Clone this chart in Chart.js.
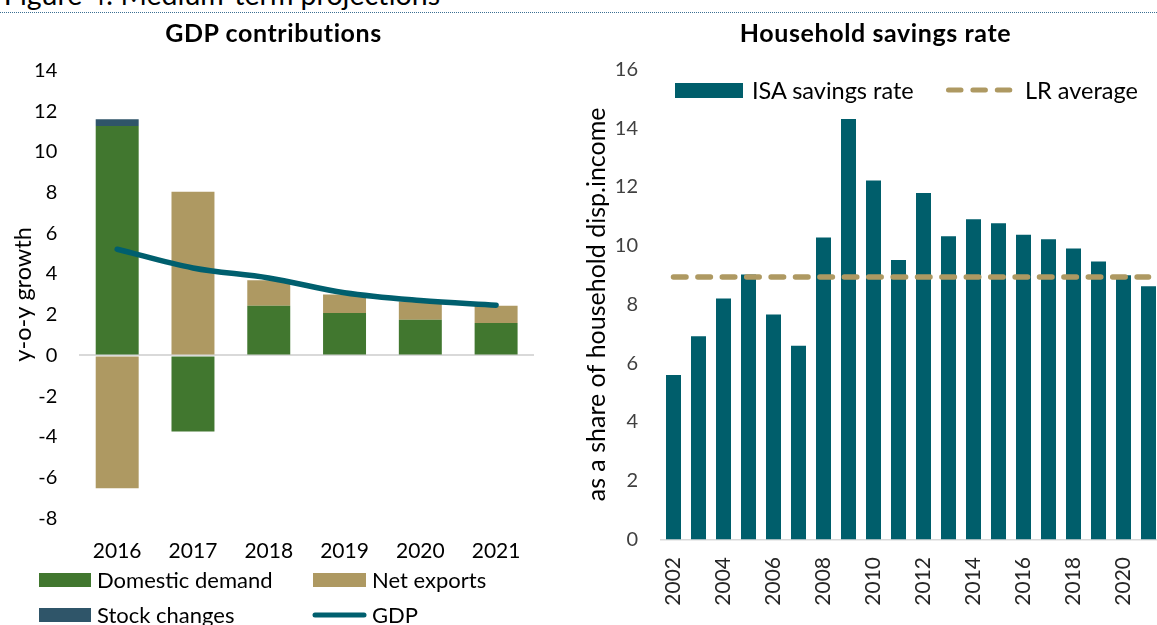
<!DOCTYPE html>
<html>
<head>
<meta charset="utf-8">
<script src="https://cdn.jsdelivr.net/npm/chart.js@4"></script>
<style>
  html, body { margin: 0; padding: 0; background: #fff; }
  body { width: 1157px; height: 625px; overflow: hidden; position: relative; font-family: Lato, sans-serif; color: #000; }
  .abs { position: absolute; white-space: nowrap; }
  #header { right: calc(100% - 440px); top: -20px; font-size: 28.5px; line-height: 28.5px; color: #000; }
  #rule { left: 0; top: 12px; width: 1157px; border-top: 1px dotted #3a6f92; }
  .title { font-weight: bold; font-size: 25px; letter-spacing: 0.6px; line-height: 28px; top: 18px; transform: translateX(-50%); }
  .lgL { font-size: 22px; line-height: 24px; }
  .lgR { font-size: 23.5px; line-height: 24px; }
  .sw { position: absolute; }
  #leftBox { left: 0; top: 0; width: 560px; height: 625px; }
  #rightBox { left: 560px; top: 0; width: 605px; height: 625px; }
</style>
</head>
<body>
<div id="header" class="abs">Figure 4: Medium-term projections</div>
<div id="rule" class="abs"></div>

<div id="leftBox" class="abs"><canvas id="gdpChart" width="560" height="625"></canvas></div>
<div id="rightBox" class="abs"><canvas id="savChart" width="605" height="625"></canvas></div>

<div class="abs title" style="left:273.5px">GDP contributions</div>
<div class="abs title" style="left:875.5px">Household savings rate</div>

<!-- left legend -->
<div class="sw" style="left:39px;top:573px;width:52px;height:14px;background:#41772f"></div>
<div class="abs lgL" style="left:97px;top:568px">Domestic demand</div>
<div class="sw" style="left:313px;top:573px;width:53px;height:14px;background:#ae9962"></div>
<div class="abs lgL" style="left:372px;top:568px">Net exports</div>
<div class="sw" style="left:39px;top:608px;width:52px;height:14px;background:#2f5569"></div>
<div class="abs lgL" style="left:97px;top:603px">Stock changes</div>
<svg class="sw" style="left:305px;top:605px" width="70" height="20"><line x1="10" y1="10" x2="59" y2="10" stroke="#005f6e" stroke-width="5" stroke-linecap="round"/></svg>
<div class="abs lgL" style="left:372px;top:603px">GDP</div>

<!-- right legend -->
<div class="sw" style="left:675px;top:83px;width:68px;height:15px;background:#005e6b"></div>
<div class="abs lgR" style="left:752px;top:78px">ISA savings rate</div>
<svg class="sw" style="left:940px;top:80px" width="80" height="20"><line x1="8.5" y1="10" x2="70.5" y2="10" stroke="#ae9962" stroke-width="5" stroke-linecap="round" stroke-dasharray="12.5 11.9"/></svg>
<div class="abs lgR" style="left:1025px;top:78px">LR average</div>

<script>
// GDP contributions (pp, y-o-y)
const gdpYears = ['2016', '2017', '2018', '2019', '2020', '2021'];
const domesticDemand = [11.27, -3.73, 2.44, 2.09, 1.75, 1.59];
const netExports = [-6.52, 8.04, 1.26, 0.9, 0.9, 0.85];
const stockChanges = [0.34, 0, 0, 0, 0, 0];
const gdpGrowth = [5.22, 4.3, 3.81, 3.08, 2.7, 2.47];
const gdpTicks = { min: -8, max: 14, step: 2 };

// household savings rate, % of disposable income
const savYears = ['2002', '2003', '2004', '2005', '2006', '2007', '2008', '2009', '2010', '2011',
  '2012', '2013', '2014', '2015', '2016', '2017', '2018', '2019', '2020', '2021'];
const isaSavings = [5.6, 6.92, 8.2, 9.02, 7.66, 6.59, 10.28, 14.31, 12.22, 9.51,
  11.79, 10.32, 10.9, 10.76, 10.37, 10.22, 9.9, 9.46, 8.99, 8.62];
const lrAverage = [8.93, 8.93, 8.93, 8.93, 8.93, 8.93, 8.93, 8.93, 8.93, 8.93,
  8.93, 8.93, 8.93, 8.93, 8.93, 8.93, 8.93, 8.93, 8.93, 8.93];
const savTicks = { min: 0, max: 16, step: 2 };

const tickFont = { family: 'Lato', size: 20 };

new Chart(document.getElementById('gdpChart'), {
  type: 'bar',
  data: {
    labels: gdpYears,
    datasets: [
      { label: 'Domestic demand', data: domesticDemand, backgroundColor: '#41772f', order: 1 },
      { label: 'Net exports', data: netExports, backgroundColor: '#ae9962', order: 1 },
      { label: 'Stock changes', data: stockChanges, backgroundColor: '#2f5569', order: 1 },
      {
        type: 'line', label: 'GDP', data: gdpGrowth, stack: 'gdp', order: 0,
        borderColor: '#005f6e', borderWidth: 5.5, borderCapStyle: 'round',
        pointRadius: 0, tension: 0.35, fill: false
      }
    ]
  },
  options: {
    responsive: false,
    animation: false,
    layout: { padding: { top: 70.5, left: 0, right: 26, bottom: 0 } },
    datasets: { bar: { barPercentage: 0.567, categoryPercentage: 1 } },
    plugins: { legend: { display: false }, tooltip: { enabled: false } },
    scales: {
      x: {
        stacked: true,
        grid: { display: false },
        border: { display: false },
        ticks: { color: '#000', font: { family: 'Lato', size: 21 }, padding: 12 },
        afterFit: s => { s.height = 625 - 518.3; s.paddingLeft = 0; s.paddingRight = 0; }
      },
      y: {
        stacked: true,
        min: gdpTicks.min, max: gdpTicks.max,
        ticks: { stepSize: gdpTicks.step, color: '#000', font: tickFont, padding: 22 },
        grid: {
          drawTicks: false,
          lineWidth: 2,
          color: c => (c.tick && c.tick.value === 0 ? '#d9d9d9' : 'rgba(0,0,0,0)')
        },
        border: { display: false },
        title: { display: true, text: 'y-o-y growth', color: '#000', font: { family: 'Lato', size: 23.5 }, padding: { top: 9, bottom: 0 } },
        afterFit: s => { s.width = 79.3; }
      }
    }
  }
});

new Chart(document.getElementById('savChart'), {
  type: 'bar',
  data: {
    labels: savYears,
    datasets: [
      { label: 'ISA savings rate', data: isaSavings, backgroundColor: '#005e6b', order: 1 },
      {
        type: 'line', label: 'LR average', data: lrAverage, order: 0,
        borderColor: '#ae9962', borderWidth: 5.5, borderDash: [12.5, 11.9], borderCapStyle: 'round',
        pointRadius: 0, fill: false
      }
    ]
  },
  options: {
    responsive: false,
    animation: false,
    layout: { padding: { top: 69.3, left: 0, right: 4, bottom: 0 } },
    datasets: { bar: { barPercentage: 0.6, categoryPercentage: 1 } },
    plugins: { legend: { display: false }, tooltip: { enabled: false } },
    scales: {
      x: {
        grid: { display: false },
        border: { display: true, color: '#d9d9d9', width: 1.5 },
        ticks: {
          color: '#262626', font: { family: 'Lato', size: 21 }, padding: 9.5,
          autoSkip: false, minRotation: 90, maxRotation: 90,
          callback: (v, i) => (i % 2 === 0 ? savYears[i] : '')
        },
        afterFit: s => { s.height = 625 - 539.5; s.paddingLeft = 0; s.paddingRight = 0; }
      },
      y: {
        min: savTicks.min, max: savTicks.max,
        ticks: { stepSize: savTicks.step, color: '#404040', font: tickFont, padding: 23 },
        grid: { display: false, drawTicks: false },
        border: { display: false },
        title: { display: true, text: 'as a share of household disp.income', color: '#000', font: { family: 'Lato', size: 25 }, padding: { top: 22, bottom: 0 } },
        afterFit: s => { s.width = 101; }
      }
    }
  }
});
</script>
</body>
</html>
